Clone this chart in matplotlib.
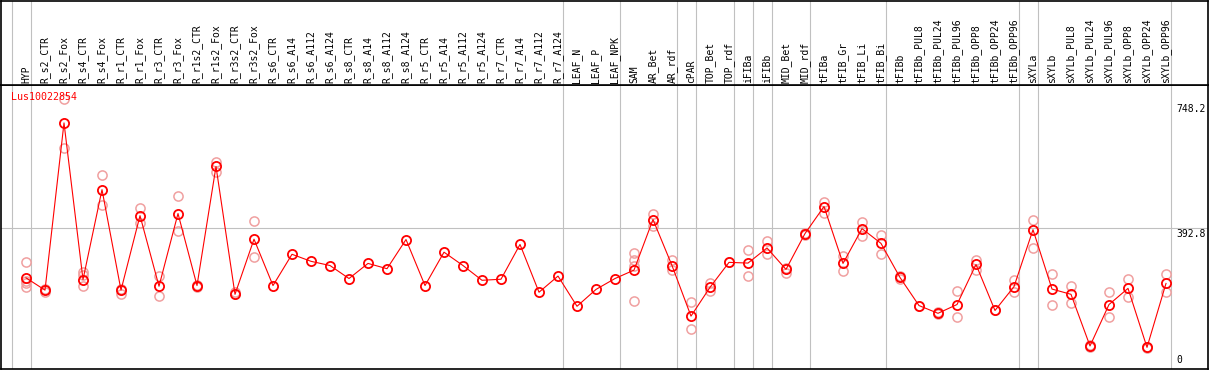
#!/usr/bin/env python3
import matplotlib as mpl
mpl.use("Agg")
import matplotlib.pyplot as plt

mpl.rcParams.update({
	"font.family": "DejaVu Sans Mono",
	"font.size": 7,
})

gene = "Lus10022854"

samples = [
	"HYP", "R_s2_CTR", "R_s2_Fox", "R_s4_CTR", "R_s4_Fox", "R_r1_CTR", "R_r1_Fox",
	"R_r3_CTR", "R_r3_Fox", "R_r1s2_CTR", "R_r1s2_Fox", "R_r3s2_CTR", "R_r3s2_Fox",
	"R_s6_CTR", "R_s6_A14", "R_s6_A112", "R_s6_A124", "R_s8_CTR", "R_s8_A14",
	"R_s8_A112", "R_s8_A124", "R_r5_CTR", "R_r5_A14", "R_r5_A112", "R_r5_A124",
	"R_r7_CTR", "R_r7_A14", "R_r7_A112", "R_r7_A124", "LEAF_N", "LEAF_P", "LEAF_NPK",
	"SAM", "AR_Bet", "AR_rdf", "cPAR", "TOP_Bet", "TOP_rdf", "iFIBa", "iFIBb",
	"MID_Bet", "MID_rdf", "tFIBa", "tFIB_Gr", "tFIB_Li", "tFIB_Bi", "tFIBb",
	"tFIBb_PUL8", "tFIBb_PUL24", "tFIBb_PUL96", "tFIBb_OPP8", "tFIBb_OPP24",
	"tFIBb_OPP96", "sXYLa", "sXYLb", "sXYLb_PUL8", "sXYLb_PUL24", "sXYLb_PUL96",
	"sXYLb_OPP8", "sXYLb_OPP24", "sXYLb_OPP96",
]

means = [
	251, 216, 692, 246, 502, 216, 428, 227, 434, 229, 568, 204, 361,
	229, 318, 298, 286, 249, 292, 277, 360, 229, 324, 286, 244,
	247, 346, 210, 256, 170, 218, 249,
	273, 417, 286, 142, 224, 295, 293, 336, 275, 377,
	454, 292, 391, 349, 252, 172, 150, 175, 289, 158, 226,
	388, 219, 204, 57, 175, 221, 53, 235,
]

replicates = [
	[297, 237, 224, 242], [211, 220], [760, 621], [268, 228, 258], [544, 459],
	[220, 204], [451, 407], [256, 198], [485, 383], [230, 226], [582, 551],
	[210, 204], [414, 309],
	[], [], [], [], [], [], [], [], [], [], [], [], [], [], [], [], [], [], [],
	[322, 303, 284, 185], [433, 398], [301, 273], [181, 105], [235, 213], [297],
	[331, 255], [355, 319], [265, 280], [380, 374],
	[468, 435], [312, 270], [409, 370], [372, 318], [255, 248], [172], [147, 153],
	[213, 139], [303, 273], [158], [244, 211],
	[415, 337], [263, 175], [229, 178], [55, 59], [210, 139], [247, 195], [51, 55],
	[261, 211],
]

# index of last sample in each block, a grey separator follows it
group_ends = [-1, 0, 28, 31, 34, 35, 37, 38, 39, 41, 45, 52, 53, 60]

scale_marks = [748.2, 392.8, 0]

def main():
	W, H = 1209, 370
	fig = plt.figure(figsize=(W / 100, H / 100), dpi=100)
	head = 85
	ax = fig.add_axes([0.5 / W, 1 / H, 1207 / W, (369 - head) / H])
	hx = fig.add_axes([0.5 / W, (H - head) / H, 1207 / W, (head - 0.5) / H])

	xmin = -25.5 / 19
	xmax = xmin + 1207 / 19
	for a in (ax, hx):
		a.set_xlim(xmin, xmax)
		a.set_xticks([])
		a.set_yticks([])
		for s in a.spines.values():
			s.set_color("black")
			s.set_linewidth(1.2)
	ax.set_ylim(-8.54, 799.9)
	hx.set_ylim(0, 1)

	grey = "#c0c0c0"
	for k in group_ends:
		ax.axvline(k + 0.25, color=grey, lw=0.8, zorder=0)
		hx.axvline(k + 0.25, color=grey, lw=0.8, zorder=0)
	ax.axhline(scale_marks[1], color=grey, lw=0.8, zorder=0)

	for i, name in enumerate(samples):
		hx.text(i, 0.027, name, rotation=90, ha="center", va="bottom", fontsize=7)

	xs = list(range(len(samples)))
	rx = [i for i, r in enumerate(replicates) for v in r]
	ry = [v for r in replicates for v in r]
	ax.plot(rx, ry, "o", ms=6.6, mfc="none", mec="#f0a0a0", mew=1.1, zorder=2)
	ax.plot(xs, means, "-", color="red", lw=0.8, zorder=3)
	ax.plot(xs, means, "o", ms=6.6, mfc="none", mec="red", mew=1.3, zorder=4)

	ax.annotate(gene, xy=(0, 1), xycoords="axes fraction", xytext=(10, -7),
		textcoords="offset pixels", color="red", ha="left", va="top", fontsize=7.2)

	ytr = ax.get_yaxis_transform()
	for v in scale_marks:
		lab = "%g" % v if v else "0"
		va = "top" if v else "bottom"
		dy = -1 if v else 1
		ax.annotate(lab, xy=(0, v), xycoords=ytr, xytext=(1176, dy),
			textcoords="offset pixels", ha="left", va=va, fontsize=7)

	fig.savefig("out.png", dpi=100)

if __name__ == "__main__":
	main()
